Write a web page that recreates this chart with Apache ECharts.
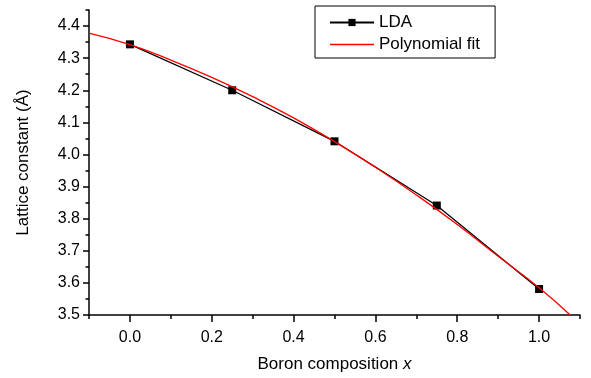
<!DOCTYPE html>
<html>
<head>
<meta charset="utf-8">
<script src="https://cdn.jsdelivr.net/npm/echarts@6/dist/echarts.min.js"></script>
<style>html,body{margin:0;padding:0;background:#fff;}#c{width:591px;height:378px;}</style>
</head>
<body>
<div id="c"></div>
<script>
// LDA data
var ldaX = [0.0, 0.25, 0.5, 0.75, 1.0];
var ldaY = [4.343, 4.200, 4.041, 3.841, 3.581];
// Polynomial fit curve
var fitX = [-0.1, 0.0, 0.1, 0.2, 0.3, 0.4, 0.5, 0.6, 0.7, 0.8, 0.9, 1.0, 1.076];
var fitY = [4.378, 4.342, 4.294, 4.240, 4.180, 4.114, 4.040, 3.960, 3.874, 3.782, 3.683, 3.585, 3.500];
// Tick values
var xMajor = [0.0, 0.2, 0.4, 0.6, 0.8, 1.0];
var xMinor = [-0.1, 0.1, 0.3, 0.5, 0.7, 0.9, 1.1];
var yMajor = [3.5, 3.6, 3.7, 3.8, 3.9, 4.0, 4.1, 4.2, 4.3, 4.4];
var yMinor = [3.55, 3.65, 3.75, 3.85, 3.95, 4.05, 4.15, 4.25, 4.35, 4.45];

var FONT = 'Liberation Sans, Arial, sans-serif';
var chart = echarts.init(document.getElementById('c'), null, {renderer: 'canvas'});
var grid = {left: 89, right: 11, top: 10, bottom: 62};
chart.setOption({
  animation: false,
  backgroundColor: '#fff',
  grid: grid,
  legend: {
    orient: 'vertical',
    left: 315, top: 6,
    padding: [8, 15, 5, 14],
    itemWidth: 44, itemHeight: 9, itemGap: 5,
    borderColor: '#000', borderWidth: 1, borderRadius: 0,
    textStyle: {fontFamily: FONT, fontSize: 17, color: '#000'},
    data: [
      {name: 'LDA'},
      {name: 'Polynomial fit',
       itemStyle: {color: 'rgba(255,255,255,0)', borderColor: 'rgba(255,255,255,0)', borderWidth: 0},
       lineStyle: {color: '#ff0000', width: 1.3}}
    ]
  },
  xAxis: [{
    type: 'value', min: -0.1, max: 1.1,
    name: '{a|Boron composition }{b|x}',
    nameLocation: 'middle', nameGap: 41,
    nameTextStyle: {rich: {
      a: {fontFamily: FONT, fontSize: 17, color: '#000'},
      b: {fontFamily: FONT, fontSize: 17, color: '#000', fontStyle: 'italic'}
    }},
    axisLine: {show: true, onZero: false, lineStyle: {color: '#000', width: 1.5}},
    axisTick: {show: true, inside: false, length: 7, lineStyle: {color: '#000', width: 1.5}, customValues: xMajor},
    axisLabel: {show: true, margin: 15, fontFamily: FONT, fontSize: 16, color: '#000', customValues: xMajor,
      formatter: function (v) { return v.toFixed(1); }},
    splitLine: {show: false}
  }, {
    type: 'value', min: -0.1, max: 1.1, position: 'bottom', gridIndex: 0,
    axisLine: {show: false, onZero: false},
    axisTick: {show: true, inside: false, length: 4, lineStyle: {color: '#000', width: 1.5}, customValues: xMinor},
    axisLabel: {show: false},
    splitLine: {show: false}
  }],
  yAxis: [{
    type: 'value', min: 3.5, max: 4.45,
    name: 'Lattice constant (Å)',
    nameLocation: 'middle', nameGap: 57, nameRotate: 90,
    nameTextStyle: {fontFamily: FONT, fontSize: 17, color: '#000'},
    axisLine: {show: true, onZero: false, lineStyle: {color: '#000', width: 1.5}},
    axisTick: {show: true, inside: false, length: 6, lineStyle: {color: '#000', width: 1.5}, customValues: yMajor},
    axisLabel: {show: true, margin: 9, fontFamily: FONT, fontSize: 16, color: '#000', customValues: yMajor,
      formatter: function (v) { return v.toFixed(1); }},
    splitLine: {show: false}
  }, {
    type: 'value', min: 3.5, max: 4.45, position: 'left',
    axisLine: {show: false, onZero: false},
    axisTick: {show: true, inside: false, length: 3.5, lineStyle: {color: '#000', width: 1.5}, customValues: yMinor},
    axisLabel: {show: false},
    splitLine: {show: false}
  }],
  series: [{
    name: 'LDA', type: 'line',
    data: ldaX.map(function (x, i) { return [x, ldaY[i]]; }),
    symbol: 'rect', symbolSize: 8, showSymbol: true,
    lineStyle: {color: '#000', width: 1.3},
    itemStyle: {color: '#000'},
    z: 2
  }, {
    name: 'Polynomial fit', type: 'line',
    data: fitX.map(function (x, i) { return [x, fitY[i]]; }),
    smooth: true, symbol: 'none', showSymbol: false,
    lineStyle: {color: '#ff0000', width: 1.3},
    itemStyle: {color: '#ff0000'},
    z: 3
  }]
});
</script>
</body>
</html>
